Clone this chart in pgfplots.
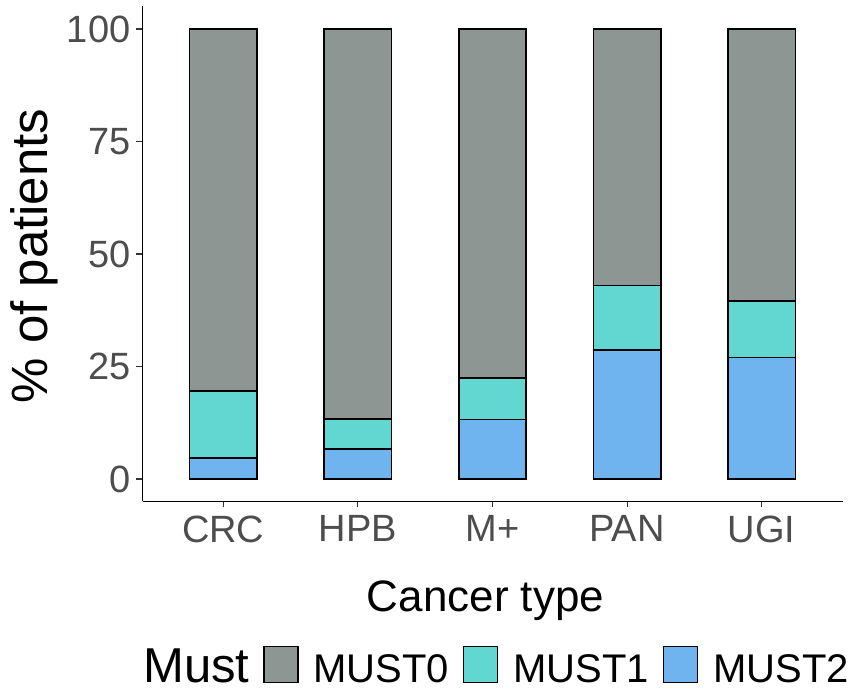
\documentclass[border=0pt]{standalone}
\usepackage{fontspec}
\setmainfont{Liberation Sans}
\usepackage{pgfplots}
\pgfplotsset{compat=1.18}
\definecolor{must0}{HTML}{8E9693}
\definecolor{must1}{HTML}{62D6D1}
\definecolor{must2}{HTML}{6FB4EF}
\definecolor{ticklab}{HTML}{4D4D4D}
\definecolor{tickcol}{HTML}{333333}
\begin{document}
\begin{tikzpicture}[x=1pt,y=1pt]
\path[use as bounding box] (0,0) rectangle (854,693);
\begin{axis}[
  at={(142.5pt,191.5pt)}, anchor=south west,
  scale only axis, width=700pt, height=495pt,
  ybar stacked, bar width=0.5,
  xmin=0.4, xmax=5.6, ymin=-5, ymax=105,
  xtick={1,2,3,4,5}, xticklabels={CRC,HPB,M+,PAN,UGI},
  ytick={0,25,50,75,100},
  axis x line*=bottom, axis y line*=left,
  axis line style={line width=1.8pt, black, -},
  tick align=outside, major tick length=6pt,
  tick style={line width=1.2pt, tickcol},
  /pgf/number format/assume math mode=true,
  xticklabel style={font=\fontsize{38}{38}\selectfont, text=ticklab, inner sep=0pt, yshift=-8pt},
  yticklabel style={font=\fontsize{38}{38}\selectfont, text=ticklab, inner sep=0pt, xshift=-6pt},
  xlabel={Cancer type}, ylabel={\% of patients},
  xlabel style={font=\fontsize{44}{44}\selectfont, at={(axis description cs:0.49,-0.2232)}, anchor=base},
  ylabel style={font=\fontsize{51}{51}\selectfont, at={(axis description cs:-0.1364,0.496)}, anchor=base},
  legend image code/.code={\draw[#1] (0pt,-0.5pt) rectangle (34pt,35.5pt);},
  legend style={at={(axis description cs:-0.0207,-0.3303)}, anchor=west, draw=none, fill=none,
    legend columns=-1, inner sep=0pt, nodes={inner sep=0pt},
    cells={anchor=base west},
    font=\fontsize{40}{40}\selectfont,
    /tikz/every odd column/.style={column sep=15pt},
    /tikz/every even column/.style={column sep=14pt}},
]
\addplot[fill=must2, draw=black, line width=1.6pt, forget plot] coordinates {(1,4.6) (2,6.7) (3,13.2) (4,28.6) (5,27.0)};
\addplot[fill=must1, draw=black, line width=1.6pt, forget plot] coordinates {(1,14.9) (2,6.6) (3,9.2) (4,14.4) (5,12.6)};
\addplot[fill=must0, draw=black, line width=1.6pt, forget plot] coordinates {(1,80.5) (2,86.7) (3,77.6) (4,57.0) (5,60.4)};
\addlegendimage{empty legend}
\addlegendentry{\fontsize{49}{49}\selectfont Must}
\addlegendimage{fill=must0, draw=black, line width=1.2pt}
\addlegendentry{MUST0}
\addlegendimage{fill=must1, draw=black, line width=1.2pt}
\addlegendentry{MUST1}
\addlegendimage{fill=must2, draw=black, line width=1.2pt}
\addlegendentry{MUST2}
\end{axis}
\end{tikzpicture}
\end{document}
